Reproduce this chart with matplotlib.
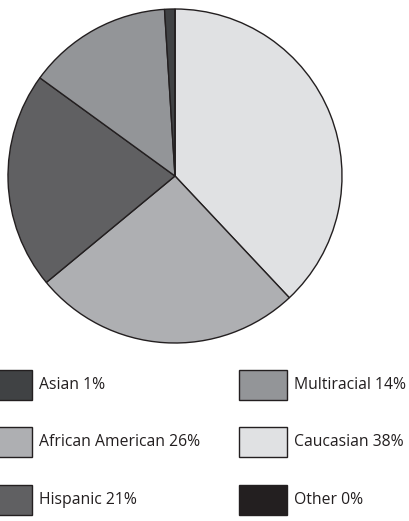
import matplotlib
matplotlib.use("Agg")
import matplotlib.pyplot as plt
from matplotlib.patches import Rectangle

plt.rcParams['font.family'] = ['Open Sans', 'DejaVu Sans']

# pie order (clockwise from top)
pie_labels = ["Caucasian", "African American", "Hispanic", "Multiracial", "Asian", "Other"]
pie_values = [38, 26, 21, 14, 1, 0]
pie_colors = ["#e0e1e3", "#aeafb2", "#606062", "#939598", "#404244", "#231f20"]

# legend order (column-major)
legend_order = ["Asian", "African American", "Hispanic", "Multiracial", "Caucasian", "Other"]

W, H = 409, 521
fig = plt.figure(figsize=(W / 100, H / 100), dpi=100)

cx, cy, r = 175, 176, 167
ax = fig.add_axes([(cx - r) / W, (H - cy - r) / H, 2 * r / W, 2 * r / H])
ax.pie(pie_values, colors=pie_colors, startangle=90, counterclock=False,
       radius=1, wedgeprops=dict(edgecolor="#231f20", linewidth=1.0))
ax.set_xlim(-1, 1)
ax.set_ylim(-1, 1)
ax.set_aspect("equal")
ax.axis("off")

lax = fig.add_axes([0, 0, 1, 1])
lax.set_xlim(0, W)
lax.set_ylim(H, 0)
lax.axis("off")

col_x = [-16, 239]
row_y = [385, 442, 500]
color_of = dict(zip(pie_labels, pie_colors))
value_of = dict(zip(pie_labels, pie_values))
for i, name in enumerate(legend_order):
    c, rr = divmod(i, 3)
    x0 = col_x[c]
    y0 = row_y[rr]
    lax.add_patch(Rectangle((x0, y0 - 15), 48, 30, facecolor=color_of[name],
                            edgecolor="#231f20", linewidth=1.0))
    lax.text(x0 + 55, y0, f"{name} {value_of[name]}%", fontsize=11.3,
             va="center", ha="left", color="#231f20")

fig.savefig("out.png", dpi=100)
